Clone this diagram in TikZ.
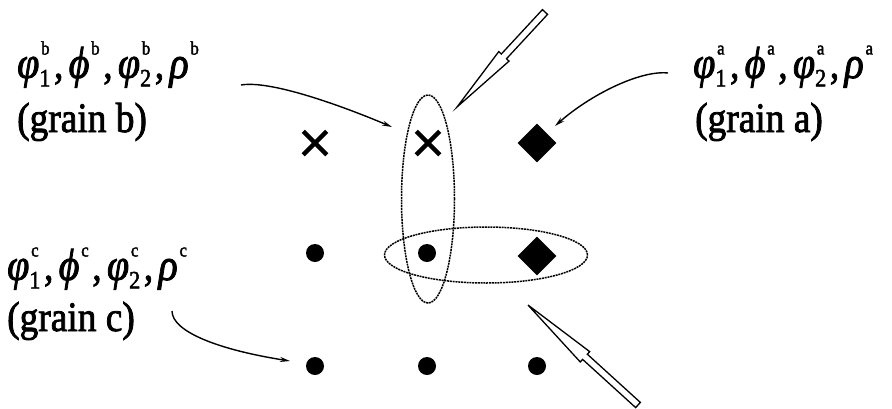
\documentclass[tikz,border=0pt]{standalone}
\usepackage{fontspec}
\setmainfont{Liberation Serif}[FakeBold=2]
\usetikzlibrary{shapes.geometric,shapes.misc,arrows.meta,calc}
\newcommand\hollowarr[3]{%
  \coordinate (hb) at ($(#1)!#3!(#2)$);
  \draw[hollow] (#1) -- ($(hb)!7pt!90:(#2)$) -- ($(hb)!3.5pt!90:(#2)$)
    -- ($(#2)!3.5pt!-90:(#1)$) -- ($(#2)!3.5pt!90:(#1)$)
    -- ($(hb)!3.5pt!-90:(#2)$) -- ($(hb)!7pt!-90:(#2)$) -- cycle;}
\newcommand\lbl[1]{\scalebox{0.89}[1]{\fontsize{42}{48}\selectfont #1}}
\newcommand\supsz{\fontsize{19}{19}\selectfont}
\newcommand\subsz{\fontsize{25}{25}\selectfont}
\newcommand\gk[1]{{\fontsize{45}{48}\selectfont\itshape #1}}
\newcommand\gss[3]{\gk{#1}\hbox{\rlap{\raisebox{0.56em}{\supsz\kern2pt #3}}\raisebox{-0.2em}{\subsz #2}}}
\newcommand\gsp[2]{\gk{#1}\raisebox{0.56em}{\supsz\kern2pt #2}}
\newcommand\cm{\kern4pt,\kern6pt}
\begin{document}
\begin{tikzpicture}[x=1pt,y=-1pt,
  xmark/.style={cross out,draw,line width=4.5pt,minimum size=19pt,inner sep=0pt},
  dmark/.style={diamond,fill,minimum size=39pt,inner sep=0pt},
  dotmark/.style={circle,fill,minimum size=18pt,inner sep=0pt},
  ring/.style={ellipse,draw,line width=1.5pt,dash pattern=on 2pt off 0.8pt,inner sep=0pt},
  curv/.style={line width=1.4pt,-{Stealth[length=10pt,width=5pt]}},
  hollow/.style={line width=1.3pt,fill=white,line join=miter},
  txt/.style={anchor=base west,inner sep=0pt}]
\fill[white] (0,0) rectangle (892,408);
\useasboundingbox (0,0) rectangle (892,408);
% markers
\node[xmark] (m11) at (315,143) {};
\node[xmark] (m12) at (428,143) {};
\node[dmark] (m13) at (537,143) {};
\node[dotmark] (m21) at (315,253) {};
\node[dotmark] (m22) at (427,253) {};
\node[dmark] (m23) at (537,256) {};
\node[dotmark] (m31) at (315,366) {};
\node[dotmark] (m32) at (427,366) {};
\node[dotmark] (m33) at (537,366) {};
% ellipses
\node[ring,minimum width=53pt,minimum height=208pt] (ev) at (428,199) {};
\node[ring,minimum width=203pt,minimum height=56pt] (eh) at (486,255) {};
% labels
\node[txt] (lb1) at (17,78) {\lbl{\gss{φ}{1}{b}\cm\gsp{ϕ}{b}\cm\gss{φ}{2}{b}\cm\gsp{ρ}{b}}};
\node[txt] (lb2) at (17,132) {\lbl{(grain b)}};
\node[txt] (la1) at (693,78) {\lbl{\gss{φ}{1}{a}\cm\gsp{ϕ}{a}\cm\gss{φ}{2}{a}\cm\gsp{ρ}{a}}};
\node[txt] (la2) at (695,132) {\lbl{(grain a)}};
\node[txt] (lc1) at (7,280) {\lbl{\gss{φ}{1}{c}\cm\gsp{ϕ}{c}\cm\gss{φ}{2}{c}\cm\gsp{ρ}{c}}};
\node[txt] (lc2) at (7,331) {\lbl{(grain c)}};
% curved arrows
\coordinate (bs) at (241,85);  \coordinate (be) at (392,127);
\coordinate (as) at (668,73);  \coordinate (ae) at (555,126);
\coordinate (cs) at (172,311); \coordinate (ce) at (290,361);
\draw[curv] (bs) .. controls (270,80) and (340,105) .. (be);
\draw[curv] (as) .. controls (640,70) and (590,95) .. (ae);
\draw[curv] (cs) .. controls (172,332) and (220,350) .. (ce);
% hollow arrows
\coordinate (t1) at (457,107); \coordinate (e1) at (545,12);
\coordinate (t2) at (528,305); \coordinate (e2) at (638,405);
\hollowarr{t1}{e1}{69pt}
\hollowarr{t2}{e2}{77pt}
\end{tikzpicture}
\end{document}
